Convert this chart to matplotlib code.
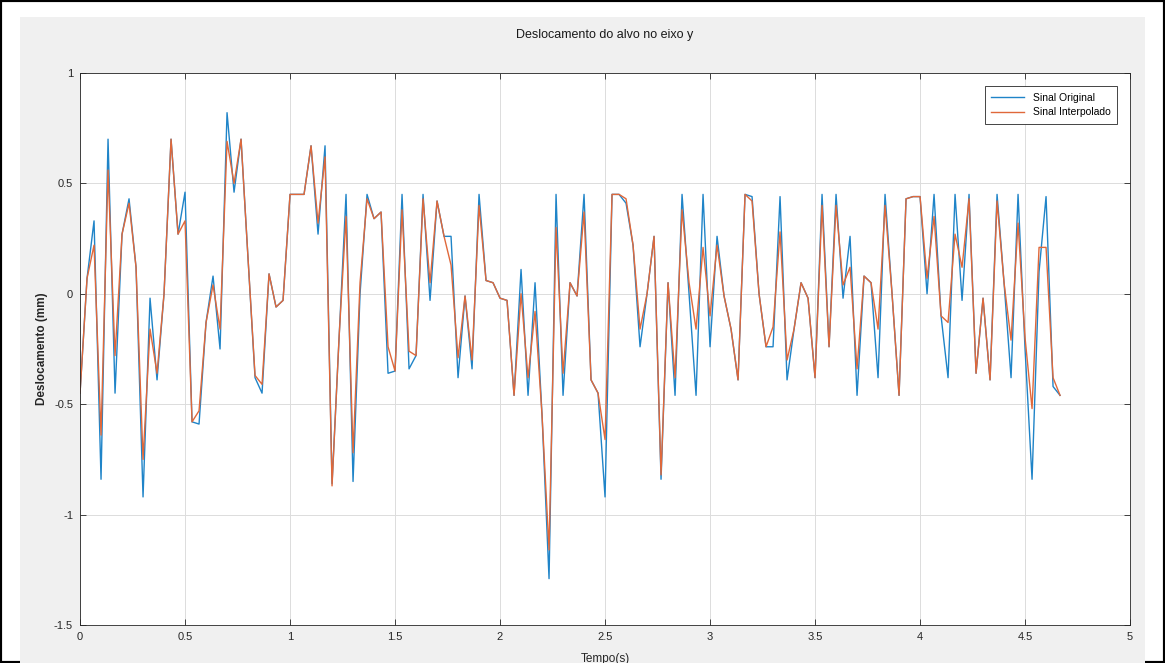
import matplotlib.pyplot as plt
from matplotlib.patches import Rectangle
import numpy as np

plt.rcParams["font.family"] = ["Liberation Sans", "DejaVu Sans"]

SAMPLE_RATE_HZ = 30.0

ORIGINAL = [
    -0.45, 0.07, 0.33, -0.84, 0.70, -0.45, 0.27, 0.43, 0.12, -0.92,
    -0.02, -0.39, 0.00, 0.70, 0.27, 0.46, -0.58, -0.59, -0.13, 0.08,
    -0.25, 0.82, 0.46, 0.70, 0.16, -0.38, -0.45, 0.09, -0.06, -0.03,
    0.45, 0.45, 0.45, 0.67, 0.27, 0.67, -0.86, -0.20, 0.45, -0.85,
    0.00, 0.45, 0.34, 0.37, -0.36, -0.35, 0.45, -0.34, -0.28, 0.45,
    -0.03, 0.42, 0.26, 0.26, -0.38, -0.01, -0.34, 0.45, 0.06, 0.05,
    -0.02, -0.03, -0.46, 0.11, -0.46, 0.05, -0.55, -1.29, 0.45, -0.46,
    0.05, -0.01, 0.45, -0.39, -0.45, -0.92, 0.45, 0.45, 0.41, 0.22,
    -0.24, 0.00, 0.26, -0.84, 0.05, -0.46, 0.45, 0.00, -0.46, 0.45,
    -0.24, 0.26, -0.01, -0.16, -0.39, 0.45, 0.44, 0.00, -0.24, -0.24,
    0.44, -0.39, -0.16, 0.05, -0.02, -0.38, 0.45, -0.24, 0.45, -0.02,
    0.26, -0.46, 0.08, 0.05, -0.38, 0.45, 0.00, -0.46, 0.43, 0.44,
    0.44, 0.00, 0.45, -0.10, -0.38, 0.45, -0.03, 0.45, -0.36, -0.02,
    -0.39, 0.45, 0.05, -0.38, 0.45, -0.25, -0.84, 0.10, 0.44, -0.42,
    -0.46,
]

INTERPOLATED = [
    -0.45, 0.07, 0.22, -0.64, 0.56, -0.28, 0.27, 0.41, 0.12, -0.75,
    -0.16, -0.36, 0.00, 0.70, 0.27, 0.33, -0.58, -0.53, -0.13, 0.04,
    -0.16, 0.69, 0.50, 0.70, 0.16, -0.37, -0.41, 0.09, -0.06, -0.03,
    0.45, 0.45, 0.45, 0.67, 0.32, 0.62, -0.87, -0.20, 0.35, -0.72,
    0.05, 0.43, 0.34, 0.37, -0.24, -0.35, 0.38, -0.26, -0.28, 0.43,
    0.05, 0.42, 0.26, 0.13, -0.29, -0.01, -0.30, 0.40, 0.06, 0.05,
    -0.02, -0.03, -0.46, 0.00, -0.38, -0.08, -0.55, -1.16, 0.30, -0.36,
    0.05, -0.01, 0.37, -0.39, -0.45, -0.66, 0.45, 0.45, 0.43, 0.22,
    -0.16, 0.00, 0.26, -0.82, 0.05, -0.38, 0.38, 0.05, -0.16, 0.21,
    -0.10, 0.22, -0.01, -0.16, -0.39, 0.45, 0.42, 0.00, -0.24, -0.15,
    0.28, -0.30, -0.16, 0.05, -0.02, -0.38, 0.40, -0.24, 0.40, 0.04,
    0.12, -0.34, 0.08, 0.05, -0.16, 0.40, 0.00, -0.46, 0.43, 0.44,
    0.44, 0.07, 0.35, -0.10, -0.13, 0.27, 0.12, 0.43, -0.36, -0.02,
    -0.39, 0.42, 0.05, -0.21, 0.32, -0.20, -0.52, 0.21, 0.21, -0.38,
    -0.46,
]

X_TICKS = [0, 0.5, 1, 1.5, 2, 2.5, 3, 3.5, 4, 4.5, 5]
X_TICK_LABELS = ["0", "0.5", "1", "1.5", "2", "2.5", "3", "3.5", "4", "4.5", "5"]
Y_TICKS = [-1.5, -1, -0.5, 0, 0.5, 1]
Y_TICK_LABELS = ["-1.5", "-1", "-0.5", "0", "0.5", "1"]

time_s = np.arange(len(ORIGINAL)) / SAMPLE_RATE_HZ

fig = plt.figure(figsize=(11.65, 6.63), dpi=100, facecolor="white")
# screenshot frame: black outline and gray matlab figure area behind the axes
frame = Rectangle((0.0, 0.0), 1.0, 1.0, transform=fig.transFigure,
                  facecolor="white", edgecolor="black", linewidth=3.0, zorder=-20)
gray = Rectangle((0.017, 0.0), 0.966, 0.975, transform=fig.transFigure,
                 facecolor="#f0f0f0", edgecolor="none", zorder=-10)
fig.patches.extend([frame, gray])

ax = fig.add_axes([0.0687, 0.0573, 0.9013, 0.8327])
ax.plot(time_s, ORIGINAL, color="#1f84c8", linewidth=1.0, label="Sinal Original")
ax.plot(time_s, INTERPOLATED, color="#e0683a", linewidth=1.0, label="Sinal Interpolado")

ax.set_xlim(0, 5)
ax.set_ylim(-1.5, 1)
ax.set_xticks(X_TICKS, X_TICK_LABELS)
ax.set_yticks(Y_TICKS, Y_TICK_LABELS)
ax.tick_params(direction="in", top=True, right=True, labelsize=8,
               length=4, width=0.6, colors="#262626", pad=5)
ax.grid(True, color="#dcdcdc", linewidth=0.7)
ax.set_axisbelow(True)
for spine in ax.spines.values():
    spine.set_color("#262626")
    spine.set_linewidth(0.6)

ax.set_title("Deslocamento do alvo no eixo y", fontsize=9, color="#1a1a1a", pad=25)
ax.set_xlabel("Tempo(s)", fontsize=8.5, color="#262626", labelpad=8)
ax.set_ylabel("Deslocamento (mm)", fontsize=8.5, color="#262626", fontweight="bold")

leg = ax.legend(loc="upper right", fontsize=7.5, fancybox=False, framealpha=1.0,
                edgecolor="#262626", borderaxespad=1.3, handlelength=3.2,
                borderpad=0.6, labelspacing=0.45)
leg.get_frame().set_linewidth(0.6)

fig.savefig("out.png", dpi=100, facecolor=fig.get_facecolor())
